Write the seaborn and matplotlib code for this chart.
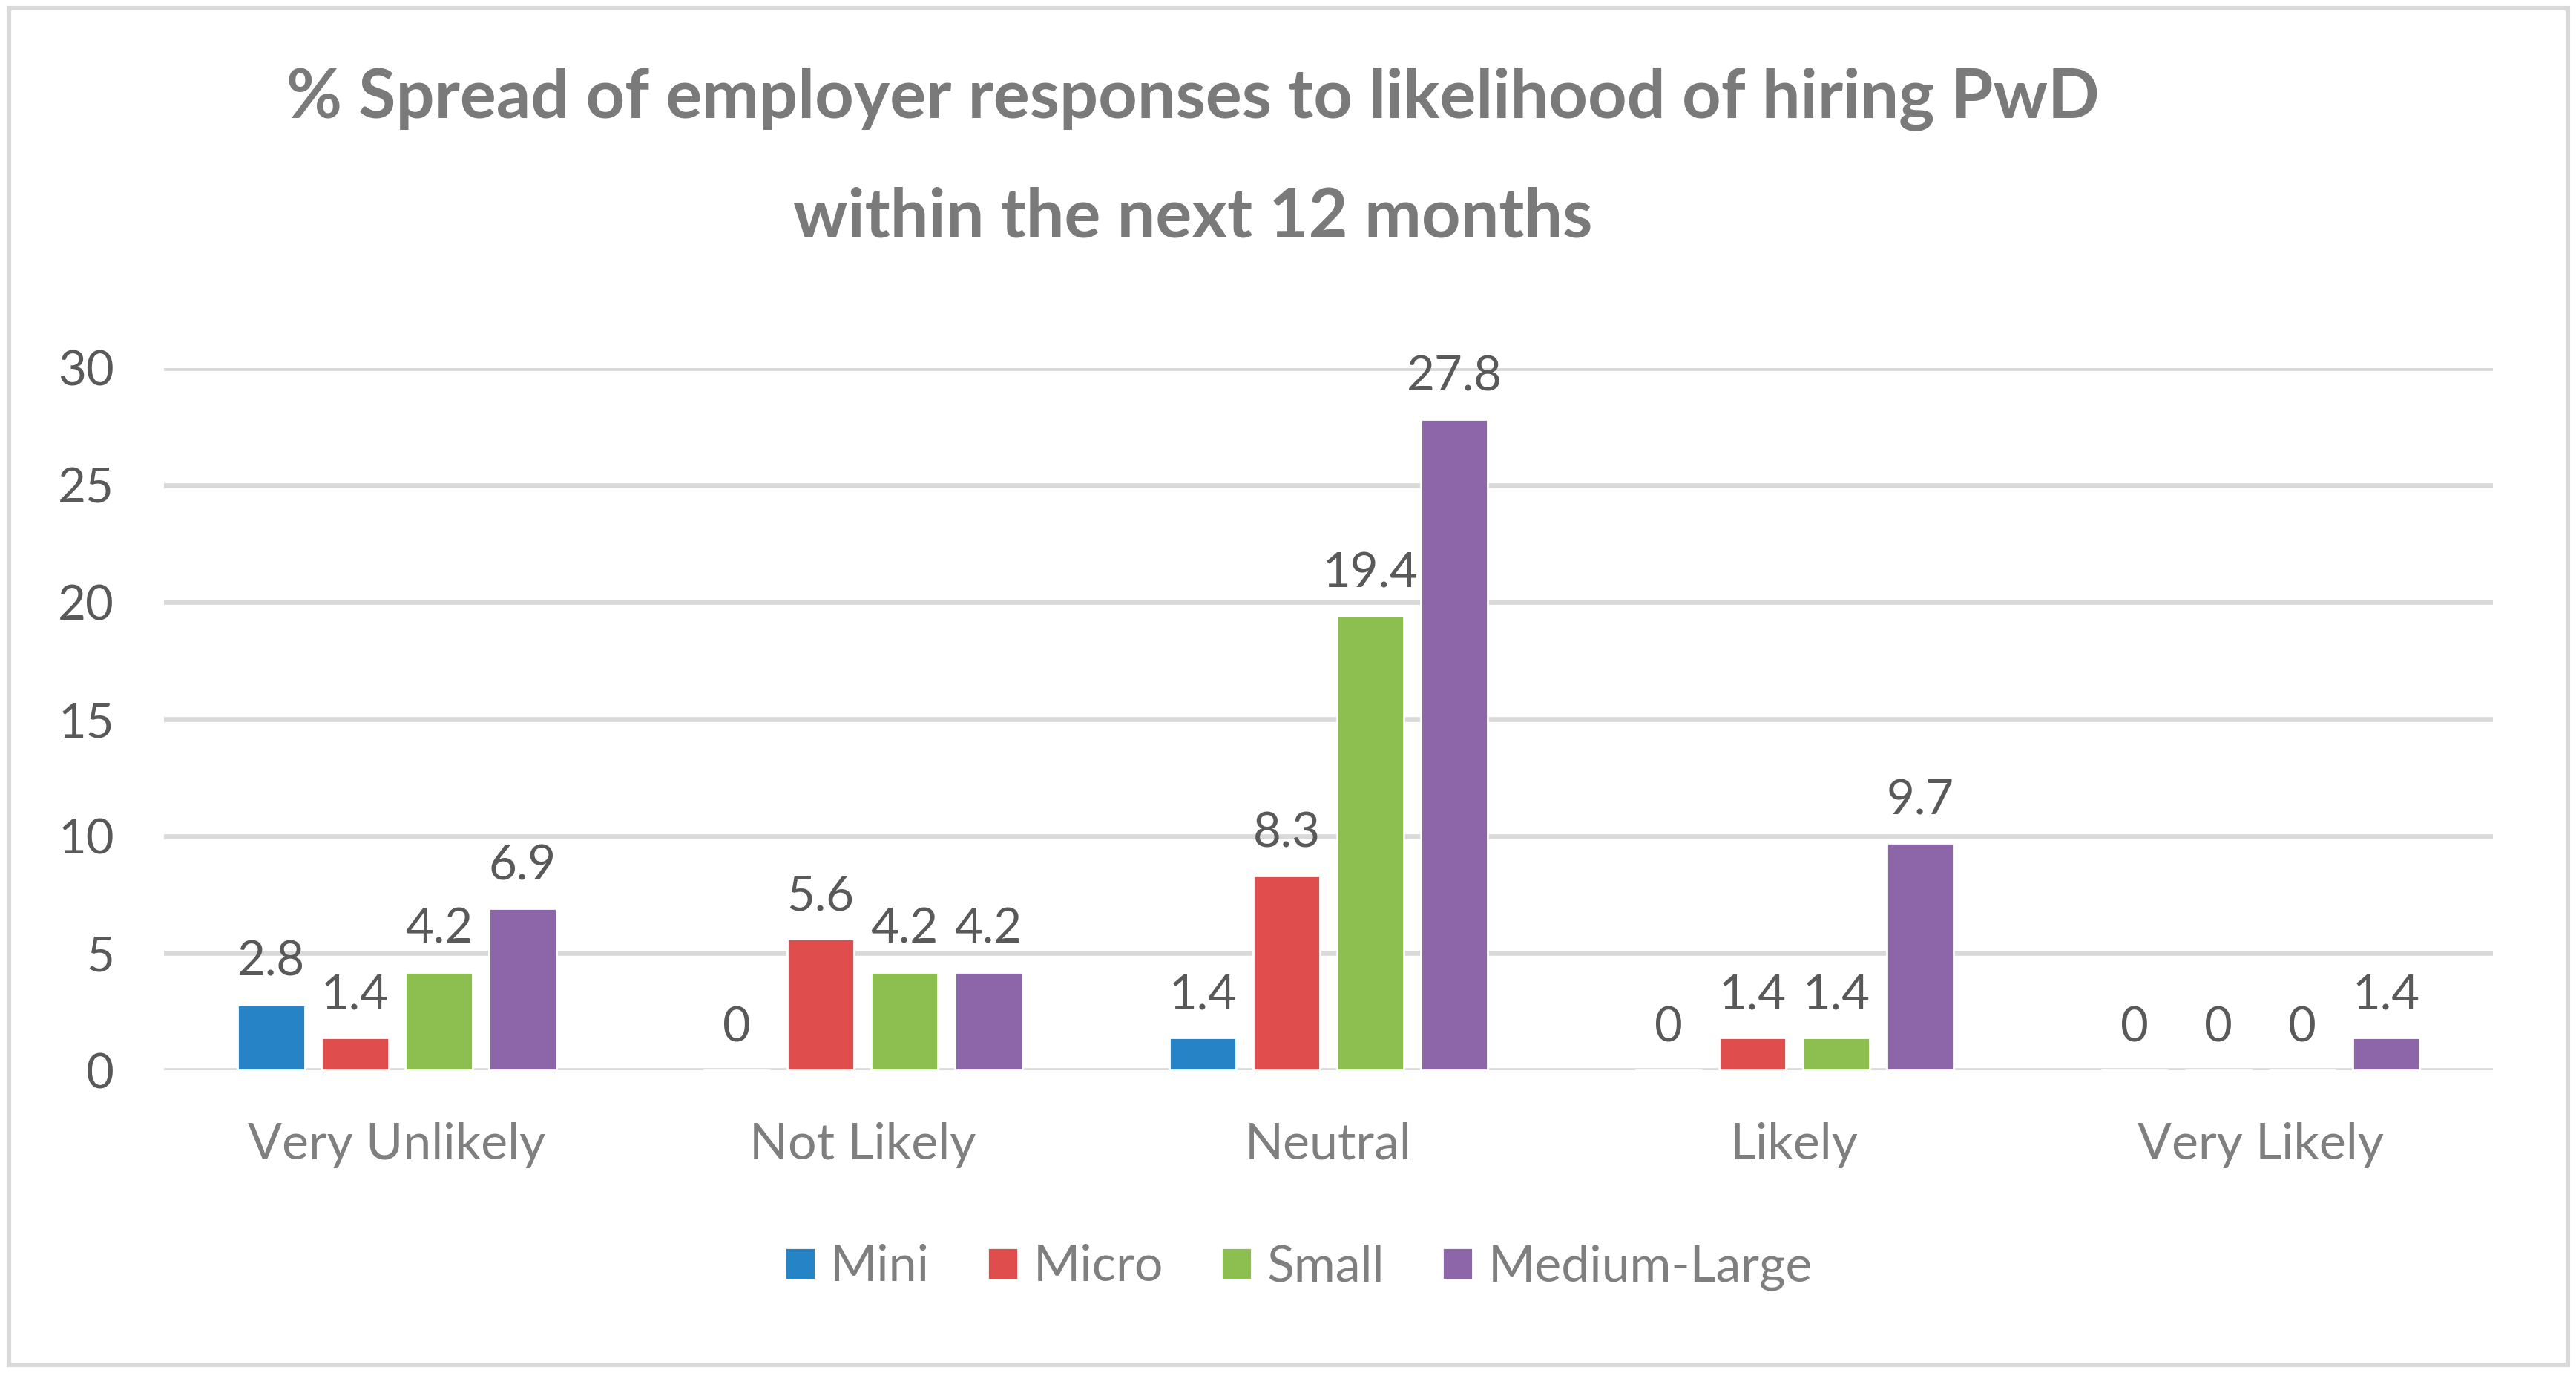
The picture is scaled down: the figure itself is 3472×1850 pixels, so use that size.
import numpy as np
import pandas as pd
import matplotlib.pyplot as plt
import seaborn as sns
from matplotlib.patches import Rectangle

# dados (% de respostas)
categorias = ['Very Unlikely', 'Not Likely', 'Neutral', 'Likely', 'Very Likely']
porte = ['Mini', 'Micro', 'Small', 'Medium-Large']
mini = [2.8, 0, 1.4, 0, 0]
micro = [1.4, 5.6, 8.3, 1.4, 0]
small = [4.2, 4.2, 19.4, 1.4, 0]
medium_large = [6.9, 4.2, 27.8, 9.7, 1.4]
y_ticks = [0, 5, 10, 15, 20, 25, 30]

cores = ['#2683C6', '#DF4E4C', '#8CBF4F', '#8C66A8']
titulo = '% Spread of employer responses to likelihood of hiring PwD\nwithin the next 12 months'

df = pd.DataFrame({
    'Categoria': categorias * 4,
    'Porte': np.repeat(porte, len(categorias)),
    'Valor': mini + micro + small + medium_large,
})

sns.set_style('white')
plt.rcParams['font.family'] = ['Lato', 'DejaVu Sans']

fig = plt.figure(figsize=(17.365, 9.25), dpi=200)
ax = fig.add_axes([0.0636, 0.2205, 0.904, 0.5114])

sns.barplot(data=df, x='Categoria', y='Valor', hue='Porte', order=categorias,
            hue_order=porte, palette=cores, width=0.72, gap=0.2,
            saturation=1, ax=ax, legend=True, zorder=3)

for cont in ax.containers:
    rotulos = [f'{b.get_height():g}' for b in cont]
    ax.bar_label(cont, labels=rotulos, padding=10, fontsize=23.5,
                 color='#595959', clip_on=False)

ax.set_xlim(-0.5, 4.5)
ax.set_ylim(0, 30)
ax.set_yticks(y_ticks)
ax.yaxis.grid(True, color='#D9D9D9', linewidth=2.4, zorder=0)
ax.set_axisbelow(True)
for s in ax.spines.values():
    s.set_visible(False)
ax.tick_params(axis='y', length=0, pad=24, labelsize=23.5, labelcolor='#595959')
ax.tick_params(axis='x', length=0, pad=25, labelsize=24.5, labelcolor='#7F7F7F')
ax.set_xlabel('')
ax.set_ylabel('')

ax.legend(loc='center', bbox_to_anchor=(0.504, 0.077), bbox_transform=fig.transFigure,
          ncol=4, frameon=False, fontsize=24.5, labelcolor='#7F7F7F',
          handlelength=0.6, handleheight=0.6, handletextpad=0.3,
          columnspacing=1.15)

fig.text(0.463, 0.885, titulo, ha='center', va='center', fontsize=33,
         fontweight='bold', color='#7A7A7A', linespacing=2.1)

# moldura do gráfico
fig.patches.append(Rectangle((0.0035, 0.006), 0.993, 0.988, transform=fig.transFigure,
                             fill=False, edgecolor='#D9D9D9', linewidth=2.2))

plt.savefig('out.png', dpi=200)
